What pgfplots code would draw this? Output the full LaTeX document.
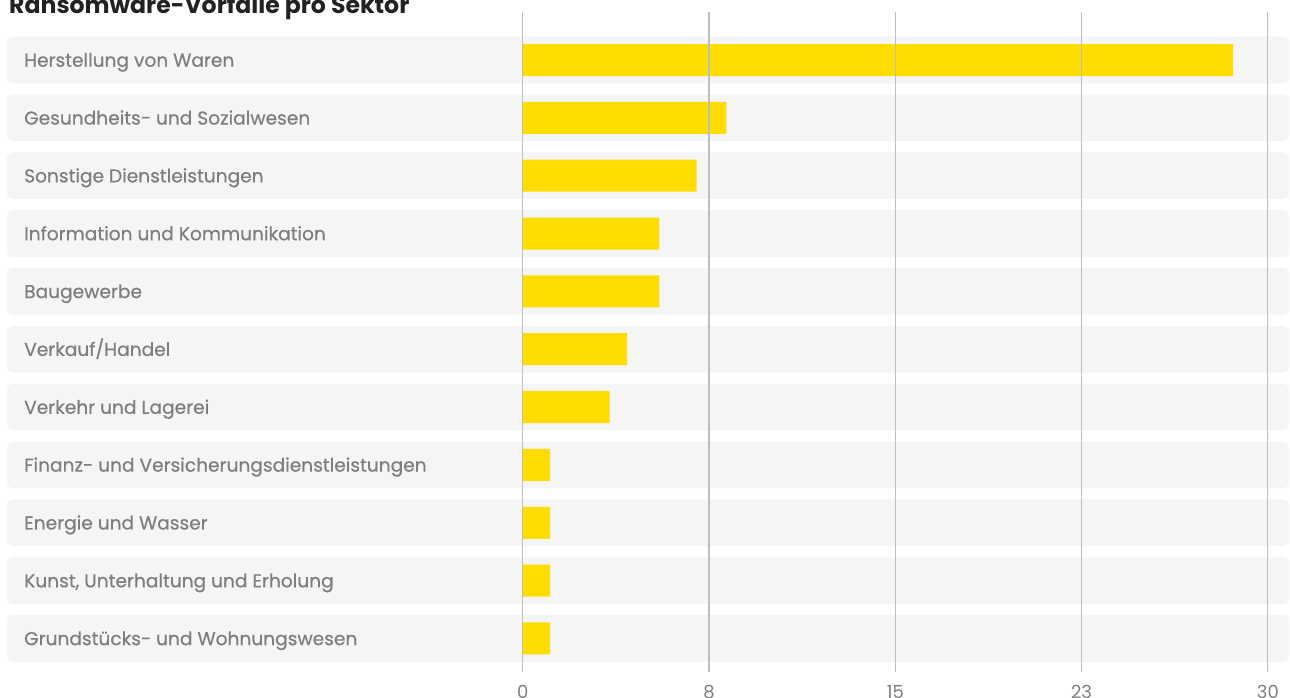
\documentclass[border=0pt]{standalone}
\usepackage{pgfplots}
\pgfplotsset{compat=1.18}
\usepackage{fontspec}
\setmainfont{Poppins}
\newfontfamily\labelfont{Poppins}[FakeBold=0.5]

\definecolor{baryellow}{HTML}{FFDD00}
\definecolor{rowband}{HTML}{F5F5F5}
\definecolor{gridgray}{HTML}{BEBEBE}
\definecolor{labelgray}{HTML}{7E7E7E}
\definecolor{titlegray}{HTML}{222222}

\begin{document}
\begin{tikzpicture}[x=1pt,y=1pt]
\useasboundingbox (0,0) rectangle (1290,698);
\node[anchor=base west, inner sep=0pt, text=titlegray,
      font=\bfseries\fontsize{23.6}{28}\selectfont] at (9,684) {Ransomware-Vorfälle pro Sektor};
\begin{axis}[
  at={(7pt,26pt)}, anchor=south west,
  scale only axis, width=1283pt, height=660pt,
  xmin=-20.76, xmax=30.89,
  ymin=-0.83, ymax=10.58, y dir=reverse,
  xbar, bar width=0.553,
  axis line style={draw=none},
  major tick length=0pt,
  xtick={0,7.5,15,22.5,30}, xticklabels={0,8,15,23,30},
  xmajorgrids, grid style={gridgray, line width=1.1pt},
  ytick={0,...,10},
  yticklabels={Herstellung von Waren, Gesundheits- und Sozialwesen, Sonstige Dienstleistungen,
    Information und Kommunikation, Baugewerbe, Verkauf/Handel, Verkehr und Lagerei,
    Finanz- und Versicherungsdienstleistungen, Energie und Wasser,
    {Kunst, Unterhaltung und Erholung}, Grundstücks- und Wohnungswesen},
  yticklabel style={anchor=base west, inner sep=0pt, xshift=17pt, yshift=-6.7pt,
    text=labelgray, font=\labelfont\fontsize{18.6}{22}\selectfont},
  xticklabel style={anchor=base, inner sep=0pt, yshift=-26.5pt,
    text=labelgray, font=\fontsize{18}{21}\selectfont},
  /pgf/number format/assume math mode=true,
  axis on top,
]
% light rounded band behind each row
\pgfplotsinvokeforeach{0,...,10}{
  \fill[rowband, rounded corners=6pt] (axis cs:-20.76,#1-0.403) rectangle (axis cs:30.85,#1+0.403);
}
\addplot[fill=baryellow, draw=none] coordinates {
  (28.6,0) (8.2,1) (7.0,2) (5.5,3) (5.5,4) (4.2,5) (3.5,6)
  (1.1,7) (1.1,8) (1.1,9) (1.1,10)
};
\end{axis}
\end{tikzpicture}
\end{document}
